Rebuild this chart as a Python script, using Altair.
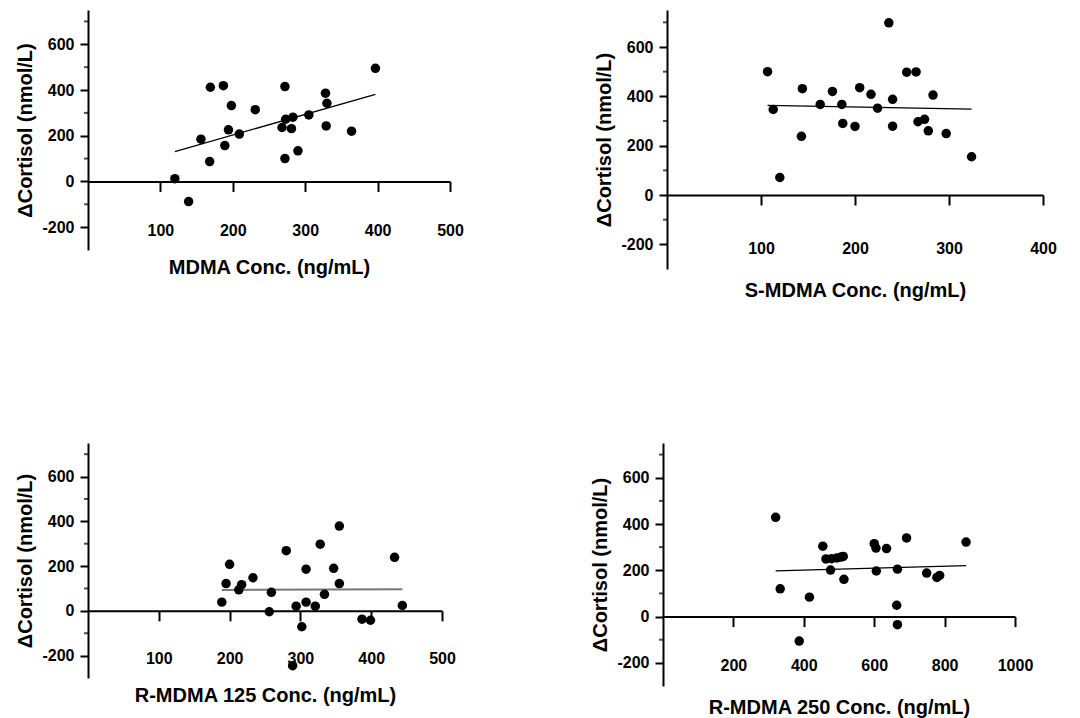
import altair as alt
import pandas as pd

# ---------------- data ----------------
mdma_x = [120, 139, 156, 168, 169, 187, 189, 194, 198, 209, 231, 268, 272, 272,
          273, 281, 283, 290, 305, 328, 330, 329, 364, 397]
mdma_y = [12, -88, 185, 87, 412, 419, 157, 226, 332, 207, 314, 236, 100, 415,
          272, 231, 281, 134, 291, 386, 342, 243, 220, 495]

s_x = [107, 113, 120, 143, 144, 163, 176, 186, 187, 200, 205, 217, 224, 236,
       240, 240, 255, 265, 267, 274, 278, 283, 297, 324]
s_y = [500, 347, 71, 238, 431, 367, 420, 367, 290, 278, 435, 408, 352, 698,
       388, 279, 498, 499, 297, 307, 260, 405, 249, 155]

r125_x = [189, 195, 200, 213, 217, 233, 256, 259, 280, 289, 294, 302, 308, 308,
          321, 328, 334, 347, 355, 355, 387, 399, 433, 444]
r125_y = [39, 122, 208, 94, 117, 148, -4, 83, 269, -245, 21, -71, 39, 186,
          21, 298, 74, 190, 379, 122, -37, -42, 239, 24]

r250_x = [320, 333, 387, 416, 454, 463, 476, 479, 494, 506, 512, 514, 600, 605,
          606, 635, 664, 666, 666, 692, 749, 778, 786, 861]
r250_y = [429, 120, -106, 84, 304, 249, 201, 250, 253, 257, 260, 161, 315, 296,
          197, 294, 49, 205, -35, 340, 188, 169, 178, 322]

y_domain = [-300, 750]
y_major = [-200, 0, 200, 400, 600]
y_minor = [-100, 100, 300, 500, 700]
y_title = "ΔCortisol (nmol/L)"

FONT = "Liberation Sans"


def panel(xs, ys, xtitle, xdomain, xticks, width, height, line_color, line_w,
          lp, tp):
    df = pd.DataFrame({"x": xs, "y": ys})
    xs_ = alt.Scale(domain=xdomain, nice=False, zero=False)
    ys_ = alt.Scale(domain=y_domain, nice=False, zero=False)
    off = height * (0 - y_domain[0]) / (y_domain[1] - y_domain[0])

    xaxis = alt.Axis(values=xticks, offset=-off, tickSize=10, tickWidth=2,
                     domainWidth=2, domainColor="black", tickColor="black",
                     labelPadding=lp, titlePadding=tp, grid=False,
                     labelExpr="'' + datum.value", labelFlush=False,
                     labelOverlap=False)
    yaxis = alt.Axis(values=y_major, tickSize=8, tickWidth=2, domainWidth=2,
                     domainColor="black", tickColor="black", labelPadding=6,
                     titlePadding=6, grid=False, labelExpr="'' + datum.value",
                     labelFlush=False, labelOverlap=False)

    X = alt.X("x:Q", scale=xs_, axis=xaxis, title=xtitle)
    Y = alt.Y("y:Q", scale=ys_, axis=yaxis, title=y_title)

    pts = alt.Chart(df).mark_circle(size=90, color="black", opacity=1).encode(
        x=X, y=Y)
    reg = alt.Chart(df).transform_regression("x", "y").mark_line(
        color=line_color, strokeWidth=line_w).encode(x=X, y=Y)
    minor = alt.Chart(pd.DataFrame({"y": y_minor})).mark_tick(
        orient="horizontal", size=4, thickness=2, color="black", xOffset=-2
    ).encode(
        x=alt.datum(xdomain[0], scale=xs_, axis=xaxis, title=xtitle),
        y=Y,
    )
    return alt.layer(reg, minor, pts).properties(width=width, height=height)


p1 = panel(mdma_x, mdma_y, "MDMA Conc. (ng/mL)", [0, 500],
           [100, 200, 300, 400, 500], 362, 240, "black", 1.3, 31, 19)
p2 = panel(s_x, s_y, "S-MDMA Conc. (ng/mL)", [0, 400],
           [100, 200, 300, 400], 376, 259, "black", 1.3, 35, 24)
p3 = panel(r125_x, r125_y, "R-MDMA 125 Conc. (ng/mL)", [0, 500],
           [100, 200, 300, 400, 500], 354, 235, "#777777", 2, 30, 19)
p4 = panel(r250_x, r250_y, "R-MDMA 250 Conc. (ng/mL)", [0, 1000],
           [200, 400, 600, 800, 1000], 352, 243, "black", 1.3, 31, 24)

chart = alt.vconcat(
    alt.hconcat(p1, p2, spacing=130),
    alt.hconcat(p3, p4, spacing=134),
    spacing=143,
).properties(
    padding={"left": 15, "top": 10, "right": 5, "bottom": 5},
    background="white",
).configure_view(stroke=None).configure_axis(
    labelFont=FONT, labelFontWeight="bold", labelFontSize=16, labelColor="black",
    titleFont=FONT, titleFontWeight="bold", titleFontSize=20, titleColor="black",
)

chart.save("out.html", embed_options={"renderer": "svg", "actions": False})
